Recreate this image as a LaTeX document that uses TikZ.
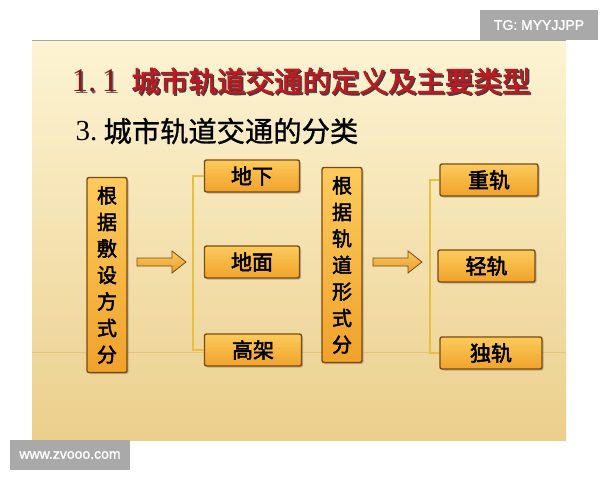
\documentclass[tikz,border=0pt]{standalone}
\usepackage{fontspec}
\setmainfont{Liberation Serif}
\newfontfamily\cjk{Noto Sans CJK SC}
\newfontfamily\cjkb[FakeBold=2.5]{Noto Sans CJK SC}
\newfontfamily\cjkm[FakeBold=1]{Noto Sans CJK SC}
\newfontfamily\wm[FakeBold=1.5]{Liberation Sans}
\usetikzlibrary{shadows}
\definecolor{slidetop}{HTML}{FDF4D4}
\definecolor{slidebot}{HTML}{EBCF8C}
\definecolor{boxtop}{HTML}{FCCB5C}
\definecolor{boxbot}{HTML}{F0A22A}
\definecolor{boxline}{HTML}{7A4A10}
\definecolor{titlered}{HTML}{C01820}
\definecolor{darkred}{HTML}{8A1818}
\definecolor{brk}{HTML}{E6C040}
\definecolor{wmgray}{HTML}{A9A9A9}
\tikzset{
  obox/.style={draw=boxline, line width=1.4pt, rounded corners=2pt,
    top color=boxtop, bottom color=boxbot,
    drop shadow={shadow xshift=1.5pt, shadow yshift=-1.5pt, fill=black!50, opacity=0.5},
    font=\cjkb\fontsize{21}{21}\selectfont, text=black, inner sep=0pt},
  hbox/.style={obox, minimum width=95pt, minimum height=32pt},
  vbox/.style={obox, minimum width=40pt, minimum height=195pt, align=center,
    font=\cjkb\fontsize{20}{26.5}\selectfont},
  bracket/.style={draw=brk, line width=1.4pt},
  barrow/.style={draw=boxline, line width=0.8pt, top color=boxtop, bottom color=boxbot!80!brown},
  wmbox/.style={fill=wmgray, text=white, font=\wm\fontsize{14}{14}\selectfont, inner sep=0pt}
}
\begin{document}
\begin{tikzpicture}[x=1pt,y=-1pt]
\useasboundingbox (0,0) rectangle (600,480);
\fill[white] (0,0) rectangle (600,480);
% slide
\shade[top color=slidetop, bottom color=slidebot] (32,40) rectangle (566,440);
\draw[black!35, line width=0.6pt] (32,40) -- (566,40);
\draw[slidebot!85!brown, line width=0.6pt] (32,352) -- (566,352);
% titles
\node[anchor=west, text=black!60, font=\fontsize{33}{33}\selectfont] at (69.5,82.5) {1.\,1};
\node[anchor=west, text=darkred, font=\fontsize{33}{33}\selectfont] (t1) at (68,81) {1.\,1};
\node[anchor=west, text=black!75, font=\cjkb\fontsize{28.5}{28.5}\selectfont] at (129.5,82.5) {城市轨道交通的定义及主要类型};
\node[anchor=west, text=titlered, font=\cjkb\fontsize{28.5}{28.5}\selectfont] (t2) at (128,81) {城市轨道交通的定义及主要类型};
\node[anchor=west, text=black, font=\fontsize{29}{29}\selectfont] (s1) at (72,131) {3.};
\node[anchor=west, text=black, font=\cjkm\fontsize{28.3}{28.3}\selectfont] (s2) at (100,131) {城市轨道交通的分类};
% left group
\node[vbox] (v1) at (107,275) {根\\据\\敷\\设\\方\\式\\分};
\node[hbox] (dixia) at (252,176) {地下};
\node[hbox] (dimian) at (252,262) {地面};
\node[hbox, minimum width=97pt] (gaojia) at (253,350) {高架};
\coordinate (b1) at (193,262);
\draw[bracket] (dixia.west) -- (dixia.west -| b1) -- (gaojia.west -| b1) -- (gaojia.west);
\draw[barrow] (137,258) -- (172,258) -- (172,251) -- (186,262) -- (172,273) -- (172,266) -- (137,266) -- cycle;
% right group
\node[vbox] (v2) at (342,265) {根\\据\\轨\\道\\形\\式\\分};
\node[hbox, minimum width=98pt] (zhong) at (489,180) {重轨};
\node[hbox, minimum width=97pt] (qing) at (486.5,266) {轻轨};
\node[hbox, minimum width=102pt] (du) at (491,353) {独轨};
\coordinate (b2) at (430,262);
\draw[bracket] (zhong.west) -- (zhong.west -| b2) -- (du.west -| b2) -- (du.west);
\draw[barrow] (373,258) -- (408,258) -- (408,251) -- (422,262) -- (408,273) -- (408,266) -- (373,266) -- cycle;
% watermarks
\node[wmbox, minimum width=118pt, minimum height=30pt] (w1) at (539,25) {TG: MYYJJPP};
\node[wmbox, minimum width=120pt, minimum height=30pt] (w2) at (70,455) {www.zvooo.com};
\end{tikzpicture}
\end{document}
